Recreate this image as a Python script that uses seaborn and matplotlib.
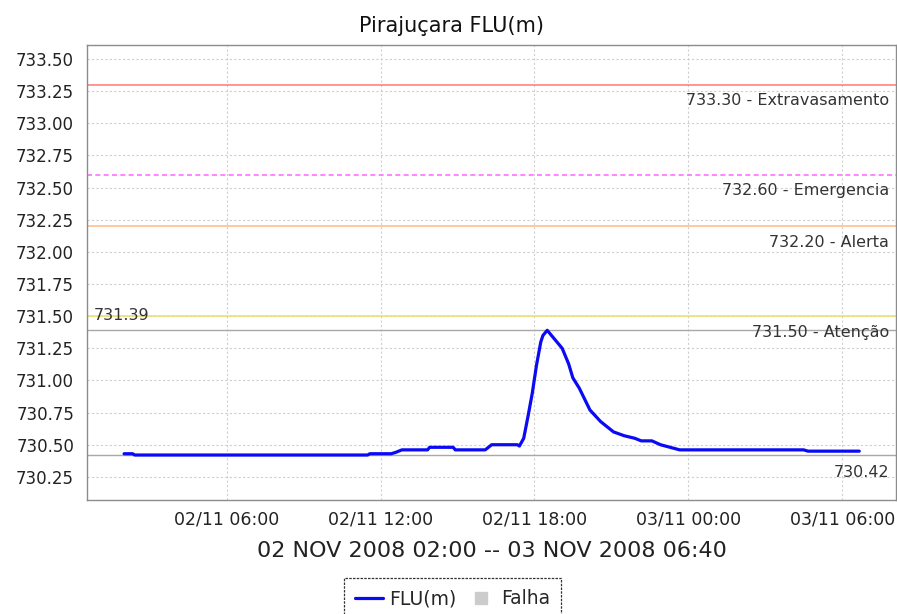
import matplotlib
matplotlib.use("Agg")
import matplotlib.pyplot as plt
import matplotlib.dates as mdates
from matplotlib.lines import Line2D
from matplotlib.ticker import MultipleLocator, FormatStrFormatter
import seaborn as sns
import pandas as pd

# ---- data ----
times = [
    "2008-11-02 02:00", "2008-11-02 02:20", "2008-11-02 02:25", "2008-11-02 11:30",
    "2008-11-02 11:35", "2008-11-02 12:25", "2008-11-02 12:35", "2008-11-02 12:50",
    "2008-11-02 13:50", "2008-11-02 13:55", "2008-11-02 14:50", "2008-11-02 14:55",
    "2008-11-02 16:05", "2008-11-02 16:20", "2008-11-02 17:20", "2008-11-02 17:25",
    "2008-11-02 17:35", "2008-11-02 17:45", "2008-11-02 17:55", "2008-11-02 18:05",
    "2008-11-02 18:15", "2008-11-02 18:20", "2008-11-02 18:30", "2008-11-02 18:45",
    "2008-11-02 19:05", "2008-11-02 19:20", "2008-11-02 19:30", "2008-11-02 19:45",
    "2008-11-02 20:10", "2008-11-02 20:35", "2008-11-02 21:05", "2008-11-02 21:30",
    "2008-11-02 21:55", "2008-11-02 22:10", "2008-11-02 22:35", "2008-11-02 22:55",
    "2008-11-02 23:40", "2008-11-03 04:30", "2008-11-03 04:40", "2008-11-03 06:40",
]
flu = [
    730.43, 730.43, 730.42, 730.42,
    730.43, 730.43, 730.44, 730.46,
    730.46, 730.48, 730.48, 730.46,
    730.46, 730.50, 730.50, 730.49,
    730.55, 730.72, 730.90, 731.12,
    731.30, 731.35, 731.39, 731.33,
    731.25, 731.13, 731.02, 730.94,
    730.77, 730.68, 730.60, 730.57,
    730.55, 730.53, 730.53, 730.50,
    730.46, 730.46, 730.45, 730.45,
]

threshold_values = [733.30, 732.60, 732.20, 731.50]
threshold_names = ["Extravasamento", "Emergencia", "Alerta", "Atenção"]
threshold_colors = ["#FF8080", "#FF70FF", "#FFC08A", "#EEE070"]
threshold_styles = ["-", (0, (3, 2)), "-", "-"]

max_value = 731.39
min_value = 730.42

title = "Pirajuçara FLU(m)"
xlabel = "02 NOV 2008 02:00 -- 03 NOV 2008 06:40"

df = pd.DataFrame({"time": pd.to_datetime(times), "FLU(m)": flu})

# ---- figure ----
sns.set_style("white")
plt.rcParams["font.family"] = ["DejaVu Sans"]

W, H = 897, 614
fig = plt.figure(figsize=(W / 100, H / 100), dpi=100)
left, right, top, bottom = 87.3, 896, 45, 499.5
ax = fig.add_axes([left / W, 1 - bottom / H, (right - left) / W, (bottom - top) / H])

# grid
ax.grid(True, color="#CFCFCF", linestyle=(0, (2, 2)), linewidth=0.8)
ax.set_axisbelow(True)

# threshold lines
for v, n, c, s in zip(threshold_values, threshold_names, threshold_colors, threshold_styles):
    ax.axhline(v, color=c, linestyle=s, linewidth=1.2, zorder=2)
    ax.annotate(f"{v:.2f} - {n}", xy=(1, v), xycoords=ax.get_yaxis_transform(),
                xytext=(-7, -16), textcoords="offset pixels",
                ha="right", va="center", fontsize=11.5, color="#333333")

# max / min lines
ax.axhline(max_value, color="#A8A8A8", linewidth=1.0, zorder=2)
ax.annotate(f"{max_value:.2f}", xy=(0, max_value), xycoords=ax.get_yaxis_transform(),
            xytext=(6, 15), textcoords="offset pixels",
            ha="left", va="center", fontsize=11.5, color="#333333")
ax.axhline(min_value, color="#A8A8A8", linewidth=1.0, zorder=2)
ax.annotate(f"{min_value:.2f}", xy=(1, min_value), xycoords=ax.get_yaxis_transform(),
            xytext=(-7, -17), textcoords="offset pixels",
            ha="right", va="center", fontsize=11.5, color="#333333")

# series
sns.lineplot(data=df, x="time", y="FLU(m)", ax=ax, color="#0A0AF5",
             linewidth=2.3, zorder=3, legend=False)

ax.set_ylim(730.074, 733.609)
ax.yaxis.set_major_locator(MultipleLocator(0.25))
ax.yaxis.set_major_formatter(FormatStrFormatter("%.2f"))
ax.xaxis.set_major_locator(mdates.HourLocator(byhour=[0, 6, 12, 18]))
ax.xaxis.set_major_formatter(mdates.DateFormatter("%d/%m %H:%M"))
ax.margins(x=0.05)

ax.set_ylabel("")
ax.set_xlabel(xlabel, fontsize=16, labelpad=9, color="#222222")
ax.tick_params(axis="both", direction="out", length=3, width=0.8, color="#888888",
               labelcolor="#222222")
ax.tick_params(axis="y", labelsize=12, pad=6.5)
ax.tick_params(axis="x", labelsize=12.5, pad=5)
for sp in ax.spines.values():
    sp.set_color("#8C8C8C")
    sp.set_linewidth(1.0)

fig.text(451.5 / W, 1 - 32 / H, title, ha="center", va="baseline", fontsize=15, color="#111111")

handles = [
    Line2D([], [], color="#0A0AF5", linewidth=2.3),
    Line2D([], [], color="#CCCCCC", marker="s", linestyle="none", markersize=8),
]
leg = fig.legend(handles, ["FLU(m)", "Falha"], loc="upper center",
                 bbox_to_anchor=(452.5 / W, 1 - 578 / H), ncol=2, fontsize=13.5,
                 frameon=True, fancybox=False, handlelength=1.5, handletextpad=0.3,
                 columnspacing=0.6, borderpad=0.6, borderaxespad=0)
fr = leg.get_frame()
fr.set_edgecolor("black")
fr.set_linestyle((0, (2, 1)))
fr.set_linewidth(0.9)

fig.savefig("out.png", dpi=100)
